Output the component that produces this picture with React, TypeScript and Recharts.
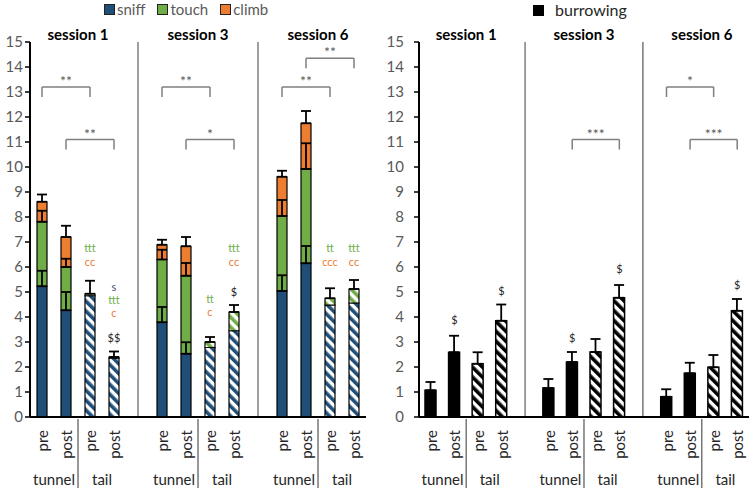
import React from 'react';
import { BarChart, Bar, XAxis, YAxis, Cell, ErrorBar, ReferenceLine, ReferenceDot } from 'recharts';

// 14 slots per panel: 3 sessions x (tunnel pre/post, tail pre/post) with an empty slot between sessions
const catIds = ['s1tp', 's1to', 's1lp', 's1lo', 'gap1', 's3tp', 's3to', 's3lp', 's3lo', 'gap2', 's6tp', 's6to', 's6lp', 's6lo'];
const catLabels = ['pre', 'post', 'pre', 'post', '', 'pre', 'post', 'pre', 'post', '', 'pre', 'post', 'pre', 'post'];
const catGroups = ['tunnel', 'tunnel', 'tail', 'tail', '', 'tunnel', 'tunnel', 'tail', 'tail', '', 'tunnel', 'tunnel', 'tail', 'tail'];

const sniff = [5.23, 4.27, 4.85, 2.35, null, 3.79, 2.53, 2.78, 3.45, null, 5.04, 6.15, 4.48, 4.56];
const touch = [2.58, 1.73, 0.08, 0.05, null, 2.51, 3.12, 0.22, 0.75, null, 3.0, 3.77, 0.27, 0.56];
const climb = [0.8, 1.2, 0, 0, null, 0.59, 1.18, 0, 0, null, 1.57, 1.83, 0, 0];
const sniffErr = [0.62, 0.73, 0, 0, null, 0.61, 0.46, 0, 0, null, 0.63, 0.69, 0, 0];
const touchErr = [0.44, 0.33, 0.52, 0.22, null, 0.39, 0.51, 0.2, 0.28, null, 0.64, 1.03, 0.4, 0.36];
const climbErr = [0.29, 0.45, 0, 0, null, 0.2, 0.37, 0, 0, null, 0.24, 0.49, 0, 0];

const burrowing = [1.07, 2.59, 2.13, 3.85, null, 1.16, 2.2, 2.6, 4.77, null, 0.81, 1.75, 1.99, 4.25];
const burrowingErr = [0.33, 0.66, 0.46, 0.65, null, 0.36, 0.4, 0.52, 0.51, null, 0.3, 0.42, 0.49, 0.47];

const sessionTitles = [
  { from: 's1to', to: 's1lp', text: 'session 1' },
  { from: 's3to', to: 's3lp', text: 'session 3' },
  { from: 's6to', to: 's6lp', text: 'session 6' },
];

const leftBrackets = [
  { from: 's1tp', to: 's1lp', y: 13.2, text: '**' },
  { from: 's1to', to: 's1lo', y: 11.1, text: '**' },
  { from: 's3tp', to: 's3lp', y: 13.2, text: '**' },
  { from: 's3to', to: 's3lo', y: 11.1, text: '*' },
  { from: 's6tp', to: 's6lp', y: 13.2, text: '**' },
  { from: 's6to', to: 's6lo', y: 14.35, text: '**' },
];
const rightBrackets = [
  { from: 's3to', to: 's3lo', y: 11.1, text: '***' },
  { from: 's6tp', to: 's6lp', y: 13.2, text: '*' },
  { from: 's6to', to: 's6lo', y: 11.1, text: '***' },
];

const BLUE = '#1F4E79';
const GREEN = '#70AD47';
const ORANGE = '#ED7D31';
const DARK = '#262626';

const leftNotes = [
  { x: 's1lp', y: 6.76, text: 'ttt', color: GREEN },
  { x: 's1lp', y: 6.2, text: 'cc', color: ORANGE },
  { x: 's1lo', y: 5.2, text: 's', color: '#44546A' },
  { x: 's1lo', y: 4.68, text: 'ttt', color: GREEN },
  { x: 's1lo', y: 4.16, text: 'c', color: ORANGE },
  { x: 's1lo', y: 3.16, text: '$$', color: DARK },
  { x: 's3lp', y: 4.72, text: 'tt', color: GREEN },
  { x: 's3lp', y: 4.2, text: 'c', color: ORANGE },
  { x: 's3lo', y: 6.76, text: 'ttt', color: GREEN },
  { x: 's3lo', y: 6.2, text: 'cc', color: ORANGE },
  { x: 's3lo', y: 5.0, text: '$', color: DARK },
  { x: 's6lp', y: 6.76, text: 'tt', color: GREEN },
  { x: 's6lp', y: 6.2, text: 'ccc', color: ORANGE },
  { x: 's6lo', y: 6.76, text: 'ttt', color: GREEN },
  { x: 's6lo', y: 6.2, text: 'cc', color: ORANGE },
];
const rightNotes = [
  { x: 's1to', y: 3.88, text: '$', color: DARK },
  { x: 's1lo', y: 5.04, text: '$', color: DARK },
  { x: 's3to', y: 3.16, text: '$', color: DARK },
  { x: 's3lo', y: 5.92, text: '$', color: DARK },
  { x: 's6lo', y: 5.28, text: '$', color: DARK },
];

const yTicks = [0, 1, 2, 3, 4, 5, 6, 7, 8, 9, 10, 11, 12, 13, 14, 15];
const FONT = 'Lato, "Open Sans", sans-serif';

const upErr = (v: number | null) => (v ? [0, v] : null);

const leftData = catIds.map((id, i) => ({
  id,
  sniff: sniff[i],
  touch: touch[i],
  climb: climb[i],
  sniffErr: upErr(sniffErr[i]),
  touchErr: upErr(touchErr[i]),
  climbErr: upErr(climbErr[i]),
}));
const rightData = catIds.map((id, i) => ({ id, burrowing: burrowing[i], burrowingErr: upErr(burrowingErr[i]) }));

const Stripes = ({ id, color }: { id: string; color: string }) => (
  <pattern id={id} patternUnits="userSpaceOnUse" width="7" height="7" patternTransform="rotate(-45)">
    <rect width="7" height="7" fill="#fff" />
    <rect width="3.6" height="7" fill={color} />
  </pattern>
);

const BottomTick = (props: any) => {
  const { x, y, payload, half } = props;
  const i = catIds.indexOf(payload.value);
  const label = catLabels[i];
  const group = catGroups[i];
  if (!label) return <g />;
  return (
    <g>
      <text
        transform={`translate(${x},${y + 11}) rotate(-90)`}
        textAnchor="end"
        dominantBaseline="central"
        fontSize={15}
        fill="#262626"
        fontFamily={FONT}
      >
        {label}
      </text>
      {group === 'tail' && label === 'pre' && (
        <line x1={x - half} x2={x - half} y1={y} y2={y + 71} stroke="#333" strokeWidth={1} />
      )}
      {label === 'post' && (
        <text x={x - half} y={y + 66} textAnchor="middle" fontSize={15} fill="#262626" fontFamily={FONT}>
          {group}
        </text>
      )}
    </g>
  );
};

const renderTitles = () =>
  sessionTitles.map((s) => (
    <ReferenceLine
      key={'t' + s.text}
      segment={[{ x: s.from, y: 15 }, { x: s.to, y: 15 }]}
      stroke="none"
      ifOverflow="visible"
      label={{ value: s.text, position: 'top', offset: 2, fill: '#000', fontSize: 15, fontWeight: 'bold', fontFamily: FONT }}
    />
  ));

const renderBrackets = (list: typeof leftBrackets) =>
  list.flatMap((b, k) => [
    <ReferenceLine
      key={`b${k}`}
      segment={[{ x: b.from, y: b.y }, { x: b.to, y: b.y }]}
      stroke="#7f7f7f"
      strokeWidth={1.5}
      label={{ value: b.text, position: 'top', offset: 1, fill: '#595959', fontSize: 14, fontFamily: FONT }}
    />,
    <ReferenceLine key={`bl${k}`} segment={[{ x: b.from, y: b.y }, { x: b.from, y: b.y - 0.4 }]} stroke="#7f7f7f" strokeWidth={1.5} />,
    <ReferenceLine key={`br${k}`} segment={[{ x: b.to, y: b.y }, { x: b.to, y: b.y - 0.4 }]} stroke="#7f7f7f" strokeWidth={1.5} />,
  ]);

const renderNotes = (list: typeof leftNotes) =>
  list.map((n, k) => (
    <ReferenceDot
      key={`n${k}`}
      x={n.x}
      y={n.y}
      r={0}
      fill="none"
      stroke="none"
      label={{ value: n.text, position: 'center', fill: n.color, fontSize: 11, fontFamily: FONT }}
    />
  ));

const LegendItem = ({ color, text }: { color: string; text: string }) => (
  <span style={{ display: 'inline-flex', alignItems: 'center', marginRight: 12, lineHeight: '18px' }}>
    <span style={{ width: 9, height: 9, background: color, border: '1.5px solid #222', marginRight: 2 }} />
    <span style={{ fontSize: 15, color: '#595959' }}>{text}</span>
  </span>
);

const isTail = (i: number) => catGroups[i] === 'tail';

export default function App() {
  return (
    <div style={{ position: 'absolute', left: 0, top: 0, width: 749, height: 488, background: '#fff', fontFamily: FONT }}>
      <div style={{ position: 'absolute', left: 104, top: 0, whiteSpace: 'nowrap', display: 'flex', lineHeight: '18px' }}>
        <LegendItem color={BLUE} text="sniff" />
        <LegendItem color={GREEN} text="touch" />
        <LegendItem color={ORANGE} text="climb" />
      </div>
      <div style={{ position: 'absolute', left: 533, top: 1, whiteSpace: 'nowrap', display: 'flex', alignItems: 'center', lineHeight: '18px' }}>
        <span style={{ width: 11, height: 11, background: '#000', marginRight: 11 }} />
        <span style={{ fontSize: 16, color: '#262626' }}>burrowing</span>
      </div>

      <div style={{ position: 'absolute', left: 0, top: 0 }}>
        <BarChart width={370} height={488} data={leftData} margin={{ top: 42, right: 4, bottom: 0, left: 0 }} barSize={10}>
          <defs>
            <Stripes id="hatchBlue" color={BLUE} />
            <Stripes id="hatchGreen" color={GREEN} />
            <Stripes id="hatchOrange" color={ORANGE} />
          </defs>
          <XAxis
            dataKey="id"
            interval={0}
            height={71}
            axisLine={{ stroke: '#000', strokeWidth: 2 }}
            tickLine={false}
            tickSize={0}
            tick={(p: any) => <BottomTick {...p} half={12} />}
          />
          <YAxis
            width={30}
            domain={[0, 15]}
            ticks={yTicks}
            interval={0}
            axisLine={{ stroke: '#000', strokeWidth: 2 }}
            tickLine={{ stroke: '#000', strokeWidth: 1.5 }}
            tickSize={5}
            tickMargin={2}
            tick={{ fill: '#595959', fontSize: 15, fontFamily: FONT }}
          />
          <ReferenceLine x="gap1" stroke="#7f7f7f" strokeWidth={1.5} />
          <ReferenceLine x="gap2" stroke="#7f7f7f" strokeWidth={1.5} />
          <Bar dataKey="sniff" stackId="a" fill={BLUE} stroke="#000" strokeWidth={1.2} isAnimationActive={false}>
            {leftData.map((d, i) => (
              <Cell key={d.id} fill={isTail(i) ? 'url(#hatchBlue)' : BLUE} />
            ))}
            <ErrorBar dataKey="sniffErr" direction="y" width={5} stroke="#000" strokeWidth={1.8} />
          </Bar>
          <Bar dataKey="touch" stackId="a" fill={GREEN} stroke="#000" strokeWidth={1.2} isAnimationActive={false}>
            {leftData.map((d, i) => (
              <Cell key={d.id} fill={isTail(i) ? 'url(#hatchGreen)' : GREEN} />
            ))}
            <ErrorBar dataKey="touchErr" direction="y" width={5} stroke="#000" strokeWidth={1.8} />
          </Bar>
          <Bar dataKey="climb" stackId="a" fill={ORANGE} stroke="#000" strokeWidth={1.2} isAnimationActive={false}>
            {leftData.map((d, i) => (
              <Cell key={d.id} fill={isTail(i) ? 'url(#hatchOrange)' : ORANGE} />
            ))}
            <ErrorBar dataKey="climbErr" direction="y" width={5} stroke="#000" strokeWidth={1.8} />
          </Bar>
          {renderTitles()}
          {renderBrackets(leftBrackets)}
          {renderNotes(leftNotes)}
        </BarChart>
      </div>

      <div style={{ position: 'absolute', left: 380, top: 0 }}>
        <BarChart width={369} height={488} data={rightData} margin={{ top: 42, right: 0, bottom: 0, left: 0 }} barSize={11}>
          <defs>
            <Stripes id="hatchBlack" color="#000" />
          </defs>
          <XAxis
            dataKey="id"
            interval={0}
            height={71}
            axisLine={{ stroke: '#000', strokeWidth: 2 }}
            tickLine={false}
            tickSize={0}
            tick={(p: any) => <BottomTick {...p} half={11.8} />}
          />
          <YAxis
            width={39}
            domain={[0, 15]}
            ticks={yTicks}
            interval={0}
            axisLine={{ stroke: '#000', strokeWidth: 2 }}
            tickLine={{ stroke: '#000', strokeWidth: 1.5 }}
            tickSize={5}
            tickMargin={10}
            tick={{ fill: '#595959', fontSize: 15, fontFamily: FONT }}
          />
          <ReferenceLine x="gap1" stroke="#7f7f7f" strokeWidth={1.5} />
          <ReferenceLine x="gap2" stroke="#333" strokeWidth={1} />
          <Bar dataKey="burrowing" fill="#000" stroke="#000" strokeWidth={1.5} isAnimationActive={false}>
            {rightData.map((d, i) => (
              <Cell key={d.id} fill={isTail(i) ? 'url(#hatchBlack)' : '#000'} />
            ))}
            <ErrorBar dataKey="burrowingErr" direction="y" width={5} stroke="#000" strokeWidth={1.8} />
          </Bar>
          {renderTitles()}
          {renderBrackets(rightBrackets)}
          {renderNotes(rightNotes)}
        </BarChart>
      </div>
    </div>
  );
}
